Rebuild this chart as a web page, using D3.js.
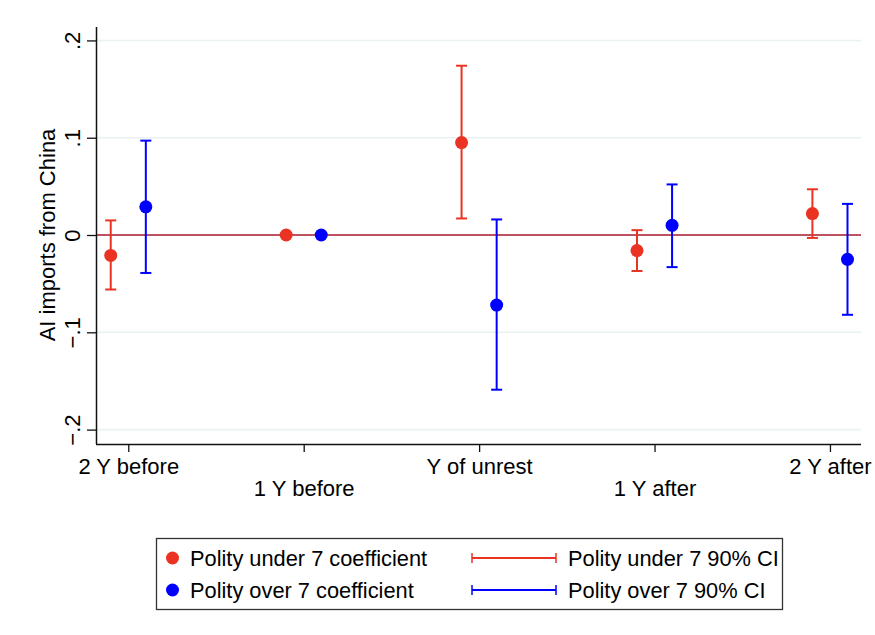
<!DOCTYPE html>
<html>
<head>
<meta charset="utf-8">
<script src="https://cdn.jsdelivr.net/npm/d3@7"></script>
<style>
  body { margin: 0; background: #fff; }
  svg { display: block; font-family: "Liberation Sans", Arial, Helvetica, sans-serif; }
</style>
</head>
<body>
<div id="chart"></div>
<script>
// event-study periods and estimates
var periods = ["2 Y before", "1 Y before", "Y of unrest", "1 Y after", "2 Y after"];
var underCoef = [-0.021, 0, 0.095, -0.016, 0.022];
var underLo   = [-0.056, null, 0.017, -0.037, -0.003];
var underHi   = [0.015, null, 0.174, 0.005, 0.047];
var overCoef  = [0.029, 0, -0.072, 0.010, -0.025];
var overLo    = [-0.039, null, -0.159, -0.033, -0.082];
var overHi    = [0.097, null, 0.016, 0.052, 0.032];
var yTicks = [-0.2, -0.1, 0, 0.1, 0.2];

var width = 875, height = 635;
var red = "#ea3323", blue = "#0000ff";

var svg = d3.select("#chart").append("svg")
    .attr("width", width)
    .attr("height", height);

var x = d3.scaleLinear().domain([0.816, 5.177]).range([96, 861]);
var y = d3.scaleLinear().domain([-0.2148, 0.2138]).range([444, 27]);

var fmt = function(d) {
    if (d === 0) return "0";
    return d3.format(".1f")(d).replace("0.", ".");
};

// gridlines
svg.append("g").selectAll("line")
    .data(yTicks.filter(function(d) { return d !== 0; }))
    .enter().append("line")
    .attr("x1", 97).attr("x2", 861)
    .attr("y1", function(d) { return y(d); })
    .attr("y2", function(d) { return y(d); })
    .attr("stroke", "#eaf1f2")
    .attr("stroke-width", 1.6);

// zero reference line
svg.append("line")
    .attr("x1", 97).attr("x2", 861)
    .attr("y1", y(0)).attr("y2", y(0))
    .attr("stroke", "#b03545")
    .attr("stroke-width", 2)
    .attr("stroke-opacity", 0.85);

// y axis
var yAxis = svg.append("g")
    .attr("transform", "translate(96,0)")
    .call(d3.axisLeft(y).tickValues(yTicks).tickSize(9).tickFormat(fmt));
yAxis.select(".domain").attr("d", "M0.5,27V444").attr("stroke", "#111").attr("stroke-width", 1.5);
yAxis.selectAll(".tick line").attr("stroke", "#111").attr("stroke-width", 1.3);
yAxis.selectAll(".tick text")
    .attr("x", null).attr("dy", null)
    .attr("transform", "translate(-16,0) rotate(-90)")
    .attr("text-anchor", "middle")
    .style("font-size", "22px")
    .style("font-family", "Liberation Sans, Arial, sans-serif")
    .attr("fill", "#000");

// x axis
var xAxis = svg.append("g")
    .attr("transform", "translate(0,444)")
    .call(d3.axisBottom(x).tickValues([1, 2, 3, 4, 5]).tickSize(8)
        .tickFormat(function(d) { return periods[d - 1]; }));
xAxis.select(".domain").attr("d", "M96,0.5H861").attr("stroke", "#111").attr("stroke-width", 1.5);
xAxis.selectAll(".tick line").attr("stroke", "#111").attr("stroke-width", 1.3);
xAxis.selectAll(".tick text")
    .attr("y", function(d) { return d % 2 === 1 ? 30 : 52; })
    .attr("dy", null)
    .style("font-size", "22px")
    .style("font-family", "Liberation Sans, Arial, sans-serif")
    .attr("fill", "#000");

// y axis title
svg.append("text")
    .attr("transform", "translate(55," + y(0) + ") rotate(-90)")
    .attr("text-anchor", "middle")
    .style("font-size", "22px")
    .text("AI imports from China");

// series
var series = [
    {coef: underCoef, lo: underLo, hi: underHi, offset: -0.1, color: red},
    {coef: overCoef, lo: overLo, hi: overHi, offset: 0.1, color: blue}
];

series.forEach(function(s) {
    var rows = s.coef.map(function(c, i) {
        return {pos: i + 1 + s.offset, coef: c, lo: s.lo[i], hi: s.hi[i]};
    });
    var ci = rows.filter(function(d) { return d.lo !== null; });
    var g = svg.append("g");

    g.selectAll(".ci").data(ci).enter().append("line")
        .attr("x1", function(d) { return x(d.pos); })
        .attr("x2", function(d) { return x(d.pos); })
        .attr("y1", function(d) { return y(d.lo); })
        .attr("y2", function(d) { return y(d.hi); })
        .attr("stroke", s.color).attr("stroke-width", 2);

    ["lo", "hi"].forEach(function(k) {
        g.selectAll(".cap-" + k).data(ci).enter().append("line")
            .attr("x1", function(d) { return x(d.pos) - 5.5; })
            .attr("x2", function(d) { return x(d.pos) + 5.5; })
            .attr("y1", function(d) { return y(d[k]); })
            .attr("y2", function(d) { return y(d[k]); })
            .attr("stroke", s.color).attr("stroke-width", 2);
    });

    g.selectAll("circle").data(rows).enter().append("circle")
        .attr("cx", function(d) { return x(d.pos); })
        .attr("cy", function(d) { return y(d.coef); })
        .attr("r", 6.5)
        .attr("fill", s.color);
});

// legend
var legend = svg.append("g");
legend.append("rect")
    .attr("x", 156.5).attr("y", 538.5)
    .attr("width", 626).attr("height", 71)
    .attr("fill", "#fff")
    .attr("stroke", "#333").attr("stroke-width", 1.3);

var legendItems = [
    {label: "Polity under 7 coefficient", ci: "Polity under 7 90% CI", color: red, yy: 558},
    {label: "Polity over 7 coefficient", ci: "Polity over 7 90% CI", color: blue, yy: 590}
];

legendItems.forEach(function(d) {
    legend.append("circle")
        .attr("cx", 172.5).attr("cy", d.yy).attr("r", 6.5)
        .attr("fill", d.color);
    legend.append("text")
        .attr("x", 190).attr("y", d.yy + 8)
        .style("font-size", "21.8px")
        .text(d.label);
    legend.append("line")
        .attr("x1", 472).attr("x2", 556)
        .attr("y1", d.yy).attr("y2", d.yy)
        .attr("stroke", d.color).attr("stroke-width", 2);
    [472, 556].forEach(function(cx) {
        legend.append("line")
            .attr("x1", cx).attr("x2", cx)
            .attr("y1", d.yy - 5).attr("y2", d.yy + 5)
            .attr("stroke", d.color).attr("stroke-width", 1.5);
    });
    legend.append("text")
        .attr("x", 568).attr("y", d.yy + 8)
        .style("font-size", "21.8px")
        .text(d.ci);
});
</script>
</body>
</html>
